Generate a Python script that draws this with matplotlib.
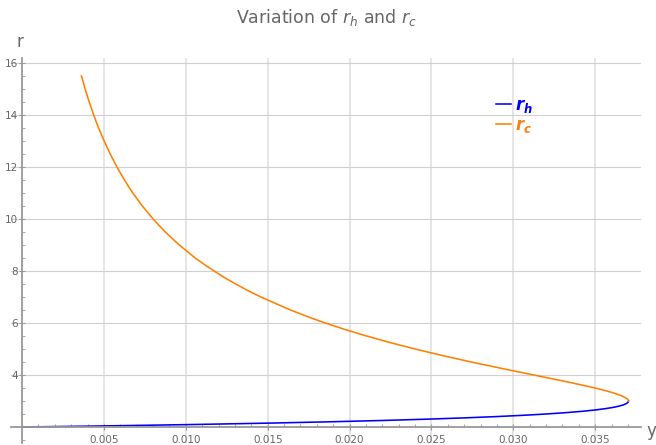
import matplotlib.pyplot as plt
from matplotlib.ticker import MultipleLocator, FixedLocator

# values (r against y)
rh_r = [2.0, 2.01, 2.02, 2.03, 2.05, 2.075, 2.1, 2.15, 2.2, 2.25, 2.3, 2.35, 2.4, 2.45,
        2.5, 2.55, 2.6, 2.65, 2.7, 2.75, 2.8, 2.85, 2.9, 2.95, 3.0]
rh_y = [0.0, 0.00123, 0.00243, 0.00359, 0.00583, 0.0084, 0.0108, 0.01509, 0.01878,
        0.02195, 0.02466, 0.02697, 0.02894, 0.0306, 0.0320, 0.03317, 0.03414, 0.03493,
        0.03556, 0.03606, 0.03644, 0.03672, 0.0369, 0.03701, 0.037037]

rc_r = [3.0, 3.05, 3.1, 3.2, 3.3, 3.4, 3.5, 3.6, 3.7, 3.8, 3.9, 4.0, 4.25, 4.5, 4.75,
        5.0, 5.25, 5.5, 5.75, 6.0, 6.25, 6.5, 7.0, 7.25, 7.5, 7.75, 8.0, 8.25, 8.5,
        9.0, 9.5, 10.0, 10.5, 11.0, 11.5, 12.0, 12.5, 13.0, 13.5, 14.0, 14.5, 15.0, 15.5]
rc_y = [0.037037, 0.03701, 0.03692, 0.03662, 0.03617, 0.03562, 0.03499, 0.03429,
        0.03356, 0.0328, 0.03203, 0.03125, 0.02931, 0.02743, 0.02566, 0.024, 0.02246,
        0.02104, 0.01972, 0.01852, 0.01741, 0.01639, 0.01458, 0.01378, 0.01304,
        0.01235, 0.01172, 0.01113, 0.01057, 0.0096, 0.00874, 0.008, 0.00734, 0.00676,
        0.00625, 0.00579, 0.00538, 0.00501, 0.00467, 0.00437, 0.0041, 0.00385, 0.003625]

x_ticks = [0.005, 0.010, 0.015, 0.020, 0.025, 0.030, 0.035]
y_ticks = [4, 6, 8, 10, 12, 14, 16]

plt.rcParams["mathtext.fontset"] = "custom"
plt.rcParams["mathtext.it"] = "DejaVu Sans:italic"
plt.rcParams["mathtext.bf"] = "DejaVu Sans:italic:bold"

gray = "#666666"
fig = plt.figure(figsize=(6.56, 4.45), dpi=100)
ax = fig.add_axes([11 / 656, 2 / 445, 630 / 656, 385 / 445])

ax.plot(rh_y, rh_r, color="#0000ff", lw=1.15, label=r"$\mathbf{r_h}$")
ax.plot(rc_y, rc_r, color="#ff8000", lw=1.15, label=r"$\mathbf{r_c}$")

ax.set_xlim(-0.000678, 0.0378)
ax.set_ylim(1.385, 16.19)

for s in ["top", "right"]:
    ax.spines[s].set_visible(False)
ax.spines["left"].set_position(("data", 0))
ax.spines["bottom"].set_position(("data", 2))
for s in ["left", "bottom"]:
    ax.spines[s].set_color("#999999")
    ax.spines[s].set_linewidth(1.3)

ax.xaxis.set_major_locator(FixedLocator(x_ticks))
ax.xaxis.set_major_formatter(plt.FixedFormatter([f"{v:.3f}" for v in x_ticks]))
ax.xaxis.set_minor_locator(MultipleLocator(0.001))
ax.yaxis.set_major_locator(FixedLocator(y_ticks))
ax.yaxis.set_minor_locator(MultipleLocator(0.5))

ax.tick_params(axis="both", which="major", labelsize=7.5, labelcolor=gray,
               color="#999999", length=4, width=0.8, direction="inout")
ax.tick_params(axis="both", which="minor", color="#999999", length=2.5,
               width=0.6, direction="in")
ax.tick_params(axis="x", which="major", pad=4)
ax.tick_params(axis="y", which="major", pad=1)

for v in x_ticks:
    ax.axvline(v, color="#e0e0e0", lw=1.2, zorder=0)
for v in y_ticks:
    ax.axhline(v, color="#d0d0d0", lw=0.8, zorder=0)

fig.text(20 / 656, 1 - 42 / 445, "r", fontsize=12, color=gray, ha="center", va="center")
fig.text(651 / 656, 1 - 431 / 445, "y", fontsize=12, color=gray, ha="center", va="center")
fig.text(326 / 656, 1 - 18 / 445, r"Variation of $r_h$ and $r_c$", fontsize=12.5,
         color=gray, ha="center", va="center")

ax.legend(loc="upper left", bbox_to_anchor=(489 / 656, 1 - 89 / 445),
          bbox_transform=fig.transFigure, frameon=False, fontsize=12,
          handlelength=0.9, handletextpad=0.25, labelspacing=0.1,
          labelcolor="linecolor", borderaxespad=0)

fig.savefig("out.png", dpi=100)
